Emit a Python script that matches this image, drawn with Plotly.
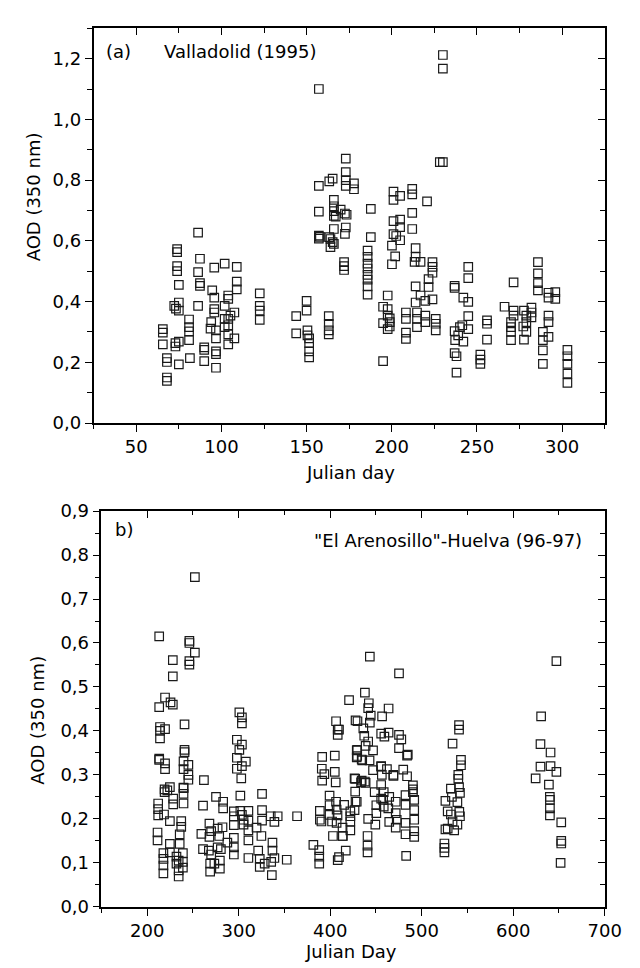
import plotly.graph_objects as go

# ---- Panel (a): Valladolid (1995) ----
days_a = [
    65.6, 65.6, 65.6, 68, 68, 68, 68, 73, 73, 72.3, 73.3,
    74, 74, 74, 74, 75, 75, 75, 75, 75, 81, 81, 81, 81, 81.5,
    86.3, 86.3, 86.3, 87.4, 87.4, 87.4, 89.9, 89.9, 89.9,
    95.8, 95.8, 95.8, 95.8, 94.6, 94, 93.6, 96.8, 96.8, 96.8, 96.8, 96.8,
    101.9, 101.9, 101.9, 101.9, 104, 104, 104, 104, 104, 104, 105.3,
    109, 109, 109, 107.6, 107.6, 122.5, 122.5, 122.5, 122.5,
    143.9, 143.9, 150, 150, 150.5, 150.5, 151.5, 151.5, 151.5, 151.5,
    163, 163, 163, 163, 172, 172, 172,
    157.2, 157.2, 157.2, 157.2, 157.2, 157.8, 163.3, 163.3, 165.3, 165.3, 164, 164,
    166, 166, 166, 166, 166, 166, 170, 172.5, 172.5,
    173, 173, 173, 173, 173, 177.8, 177.8, 167.1, 173.5,
    185.8, 185.8, 185.8, 185.8, 185.8, 185.8, 185.8, 185.8, 187.7, 187.7,
    201, 201, 201, 201, 204.9, 204.9, 204.9, 204.9, 202.6, 200.1, 200.1, 202,
    212, 212, 212, 212, 220.7, 214, 214, 214, 214, 213.4, 216.9, 216.9,
    223.9, 223.9, 223.9, 223.9, 221.6, 221.6, 219.7, 219.7, 219.7,
    197.6, 197.6, 197.6, 197.6, 194.9, 194.9, 194.9, 198.8, 198.8, 198.8,
    208.3, 208.3, 208.3, 208.3, 214.8, 214.8, 214.8, 225.8, 225.8, 225.8,
    230, 230, 230, 228.2,
    236.9, 236.9, 236.9, 236.9, 244.9, 244.9, 244.9, 244.9, 244.9, 242, 242,
    240, 241.4, 239, 237.2, 238, 238, 252, 252, 252, 255.9, 255.9, 255.9,
    266.2, 271.5, 271.5, 271.5, 270, 270, 270, 270, 277.6, 277.6, 277.2,
    279, 279, 279, 282, 282, 282, 285.8, 285.8, 285.8, 285.8,
    292, 292, 292, 292, 292, 296, 296, 288.7, 288.7, 288.7, 288.7,
    303.1, 303.1, 303.1, 303.1, 303.1,
]
aod_a = [
    0.309, 0.298, 0.259, 0.214, 0.201, 0.150, 0.139, 0.263, 0.252, 0.386, 0.377,
    0.573, 0.563, 0.517, 0.500, 0.455, 0.397, 0.370, 0.268, 0.193, 0.341, 0.316, 0.302, 0.273, 0.214,
    0.627, 0.497, 0.386, 0.541, 0.461, 0.452, 0.249, 0.241, 0.204,
    0.512, 0.413, 0.375, 0.364, 0.437, 0.332, 0.311, 0.305, 0.279, 0.236, 0.227, 0.182,
    0.525, 0.386, 0.343, 0.316, 0.420, 0.409, 0.343, 0.322, 0.292, 0.259, 0.354,
    0.514, 0.466, 0.440, 0.364, 0.279, 0.427, 0.386, 0.370, 0.340,
    0.352, 0.295, 0.402, 0.370, 0.305, 0.289, 0.279, 0.263, 0.236, 0.216,
    0.352, 0.327, 0.305, 0.292, 0.530, 0.517, 0.504,
    1.100, 0.781, 0.696, 0.617, 0.607, 0.613, 0.796, 0.612, 0.805, 0.596, 0.606, 0.579,
    0.735, 0.714, 0.698, 0.682, 0.639, 0.590, 0.703, 0.690, 0.623,
    0.871, 0.826, 0.800, 0.781, 0.644, 0.789, 0.770, 0.680, 0.686,
    0.568, 0.547, 0.525, 0.509, 0.488, 0.472, 0.450, 0.423, 0.705, 0.612,
    0.762, 0.735, 0.665, 0.622, 0.748, 0.670, 0.645, 0.602, 0.616, 0.584, 0.523, 0.549,
    0.771, 0.753, 0.692, 0.639, 0.730, 0.576, 0.547, 0.450, 0.397, 0.531, 0.531, 0.420,
    0.530, 0.514, 0.495, 0.407, 0.474, 0.448, 0.402, 0.354, 0.332,
    0.420, 0.375, 0.354, 0.309, 0.383, 0.329, 0.204, 0.345, 0.332, 0.318,
    0.364, 0.343, 0.298, 0.277, 0.364, 0.343, 0.316, 0.343, 0.327, 0.305,
    1.212, 1.167, 0.859, 0.859,
    0.452, 0.445, 0.303, 0.230, 0.514, 0.477, 0.399, 0.352, 0.309, 0.413, 0.268,
    0.316, 0.322, 0.289, 0.273, 0.220, 0.166, 0.225, 0.209, 0.195, 0.338, 0.327, 0.275,
    0.383, 0.463, 0.370, 0.354, 0.332, 0.316, 0.300, 0.273, 0.370, 0.275, 0.318,
    0.354, 0.332, 0.300, 0.380, 0.364, 0.348, 0.530, 0.493, 0.461, 0.437,
    0.429, 0.413, 0.354, 0.332, 0.284, 0.431, 0.409, 0.300, 0.273, 0.239, 0.195,
    0.241, 0.220, 0.195, 0.163, 0.132,
]

# ---- Panel (b): "El Arenosillo"-Huelva (96-97) ----
days_b = [
    252.1, 252.1, 213.1, 213.1, 213.1, 213.1, 246.1, 246.1, 246.1, 246.1,
    228, 228, 228, 219.5, 219.5, 219.5, 219.5, 225.5, 214, 214, 214,
    420.6, 240.8, 240.8, 240.8, 300.7, 300.7, 303.5, 303.5, 303.5, 303.5,
    298, 298, 298, 307.8, 302.8, 239.7, 239.7, 239.7, 239.7, 239.7, 239.7,
    245, 245, 245, 262, 224.8, 224.8, 224.8, 224.8, 219, 219,
    406.4, 406.4, 408.2, 408.2, 408.2, 391.2, 391.2, 405, 405, 390.8, 393.6, 406,
    427.7, 427.7, 429.5, 429.5,
    443.3, 443.3, 475.2, 475.2, 475.2, 647.2, 647.2, 437.9, 437.9, 442.2,
    441.5, 441.5, 441.5, 463.8, 463.8, 444.3, 456.7, 429.8, 436.2, 437.2,
    409.6, 409.6, 540.8, 540.8, 540.8, 630.5, 533.7, 533.7,
    455.7, 455.7, 455.7, 455.7, 455.7, 459.2, 477.7, 484, 484, 438.7, 438.7,
    446.8, 446.8, 429, 429, 429, 435, 443, 629.8, 629.8, 640.8, 640.8, 624.5, 639,
    542.9, 542.9, 540, 540, 462, 469, 479.8, 427.3, 427.3, 433.7, 490.4, 490.4, 490.4,
    222, 228.4, 228.4, 212, 212, 212, 218.4, 237.2, 237.2, 235.5, 235.5, 211.3, 211.3,
    217.7, 217.7, 217.7, 217.7, 232, 232, 234.4, 234.4, 234.4, 239, 239, 239,
    261, 261, 275.2, 283, 283, 259.2, 268, 268, 269.9, 269.9, 277, 277, 282.3, 278.7,
    267.4, 280.5, 268.8, 268.8, 273.4, 279.4, 279.4, 287.6,
    294.7, 294.7, 294.7, 294.7, 294.7, 294.7, 301.8, 301.8, 305.3, 305.3, 303.5,
    310.6, 310.6, 310.6, 310.6, 310.6, 319.5, 324.8, 321.3, 323, 323, 328.4,
    325.5, 325.5, 325.5, 335, 342.6, 339, 339, 336.9, 336.9, 335.5, 336.2, 352.5, 363.8,
    381.6, 388, 388, 388, 388.7, 388.7, 390.4, 399.3, 399.3, 399.3, 402, 403,
    407, 407, 408, 413.5, 413.5, 417, 415.2, 422, 422, 422, 422,
    434.4, 434.4, 426.6, 426.6, 456.4, 448.6, 469.1, 484.8,
    491.8, 491.8, 491.8, 491.8, 491.8, 482.3, 482.3, 482.3, 482.3,
    471.6, 471.6, 471.6, 472.7, 464.5, 464.5, 458.5, 458.5, 457.8, 463.5,
    450.4, 450.4, 449.3, 413.8, 440.8, 440.8, 440.8, 483,
    541.8, 541.8, 531.9, 531.9, 533, 525.9, 525.9, 528.4, 528.4, 539, 539, 541.1, 535.5,
    524.8, 524.8, 524.8, 640, 640.1, 640.1, 640.1, 652.5, 652.5, 652.5, 651.8,
]
aod_b = [
    0.750, 0.578, 0.615, 0.454, 0.334, 0.337, 0.605, 0.600, 0.559, 0.551,
    0.561, 0.524, 0.460, 0.476, 0.404, 0.326, 0.313, 0.465, 0.409, 0.400, 0.383,
    0.470, 0.415, 0.357, 0.352, 0.442, 0.357, 0.431, 0.417, 0.369, 0.320,
    0.380, 0.339, 0.314, 0.330, 0.292, 0.331, 0.313, 0.271, 0.270, 0.257, 0.235,
    0.323, 0.300, 0.289, 0.288, 0.272, 0.195, 0.143, 0.124, 0.267, 0.261,
    0.422, 0.239, 0.403, 0.391, 0.106, 0.341, 0.287, 0.344, 0.307, 0.314, 0.302, 0.283,
    0.424, 0.239, 0.357, 0.343,
    0.569, 0.419, 0.531, 0.391, 0.361, 0.559, 0.307, 0.487, 0.285, 0.463,
    0.452, 0.376, 0.200, 0.451, 0.396, 0.435, 0.433, 0.422, 0.406, 0.389,
    0.403, 0.113, 0.413, 0.403, 0.272, 0.433, 0.371, 0.194,
    0.394, 0.320, 0.319, 0.246, 0.277, 0.387, 0.381, 0.344, 0.297, 0.366, 0.282,
    0.356, 0.311, 0.356, 0.340, 0.239, 0.333, 0.333, 0.370, 0.319, 0.351, 0.320, 0.292, 0.278,
    0.334, 0.322, 0.300, 0.291, 0.313, 0.300, 0.312, 0.291, 0.262, 0.283, 0.276, 0.267, 0.261,
    0.265, 0.246, 0.233, 0.235, 0.222, 0.208, 0.210, 0.195, 0.182, 0.165, 0.143, 0.169, 0.151,
    0.122, 0.109, 0.094, 0.076, 0.114, 0.098, 0.105, 0.083, 0.069, 0.122, 0.102, 0.089,
    0.230, 0.131, 0.250, 0.239, 0.224, 0.166, 0.189, 0.159, 0.172, 0.119, 0.178, 0.135, 0.181, 0.161,
    0.128, 0.131, 0.098, 0.080, 0.098, 0.105, 0.087, 0.146,
    0.217, 0.206, 0.186, 0.157, 0.135, 0.119, 0.253, 0.218, 0.198, 0.187, 0.209,
    0.218, 0.196, 0.174, 0.151, 0.111, 0.180, 0.161, 0.128, 0.109, 0.091, 0.098,
    0.257, 0.220, 0.196, 0.206, 0.206, 0.193, 0.111, 0.146, 0.128, 0.102, 0.072, 0.107, 0.206,
    0.141, 0.129, 0.114, 0.098, 0.218, 0.198, 0.194, 0.253, 0.231, 0.209, 0.194, 0.161,
    0.221, 0.191, 0.208, 0.180, 0.161, 0.128, 0.232, 0.217, 0.194, 0.174, 0.206,
    0.335, 0.287, 0.292, 0.220, 0.300, 0.261, 0.298, 0.346,
    0.243, 0.220, 0.198, 0.172, 0.159, 0.254, 0.232, 0.191, 0.165,
    0.239, 0.213, 0.180, 0.198, 0.193, 0.250, 0.261, 0.228, 0.243, 0.224,
    0.231, 0.213, 0.187, 0.161, 0.161, 0.139, 0.124, 0.116,
    0.259, 0.206, 0.269, 0.210, 0.250, 0.241, 0.176, 0.217, 0.178, 0.238, 0.187, 0.216, 0.174,
    0.144, 0.134, 0.124, 0.250, 0.243, 0.224, 0.208, 0.192, 0.150, 0.144, 0.100,
]

W, H = 640, 968
FONT = "DejaVu Sans, Liberation Sans, Arial, sans-serif"
FS = 18

def px(x):
    return x / W

def py(y):
    return 1 - y / H

marker = dict(symbol="square-open", size=8.5, color="#1a1a1a", line=dict(width=1.2, color="#1a1a1a"))

fig = go.Figure()
fig.add_trace(go.Scatter(x=days_a, y=aod_a, mode="markers", marker=marker,
                         xaxis="x", yaxis="y", showlegend=False, hoverinfo="x+y"))
fig.add_trace(go.Scatter(x=days_b, y=aod_b, mode="markers", marker=marker,
                         xaxis="x2", yaxis="y2", showlegend=False, hoverinfo="x+y"))
# empty traces to register mirror axes (ticks pointing inward on top/right)
fig.add_trace(go.Scatter(x=[], y=[], xaxis="x3", yaxis="y3", showlegend=False))
fig.add_trace(go.Scatter(x=[], y=[], xaxis="x4", yaxis="y4", showlegend=False))

dom_a_x = [px(88), px(613)]
dom_a_y = [py(413), py(9.5)]
dom_b_x = [px(96), px(613)]
dom_b_y = [py(907.5), py(503)]

common = dict(showline=True, linecolor="black", linewidth=1.6, showgrid=False, zeroline=False,
              tickcolor="black", tickwidth=1.4, ticklen=7,
              tickfont=dict(family=FONT, size=FS, color="black"))

def main_axis(dom, rng, dtick, mdtick, anchor, fmt=None):
    d = dict(common)
    d.update(domain=dom, range=rng, dtick=dtick, tick0=0, ticks="outside", anchor=anchor,
             minor=dict(dtick=mdtick, tick0=0, ticks="outside", ticklen=4.5, tickwidth=1.4, tickcolor="black"))
    if fmt:
        d["tickformat"] = fmt
    return d

def mirror_axis(rng, dtick, mdtick, overlay, anchor, side):
    d = dict(common)
    d.update(range=rng, dtick=dtick, tick0=0, ticks="inside", overlaying=overlay, anchor=anchor,
             side=side, showticklabels=False,
             minor=dict(dtick=mdtick, tick0=0, ticks="inside", ticklen=4.5, tickwidth=1.4, tickcolor="black"))
    return d

fig.update_layout(
    width=W, height=H,
    margin=dict(l=0, r=0, t=0, b=0),
    paper_bgcolor="white", plot_bgcolor="white",
    separators=",.",
    font=dict(family=FONT, size=FS, color="black"),
    xaxis=main_axis(dom_a_x, [25, 325], 50, 25, "y"),
    yaxis=main_axis(dom_a_y, [0, 1.3], 0.2, 0.1, "x", ".1f"),
    xaxis2=main_axis(dom_b_x, [150, 700], 100, 50, "y2"),
    yaxis2=main_axis(dom_b_y, [0, 0.9], 0.1, 0.05, "x2", ".1f"),
    xaxis3=mirror_axis([25, 325], 50, 25, "x", "y", "top"),
    yaxis3=mirror_axis([0, 1.3], 0.2, 0.1, "y", "x", "right"),
    xaxis4=mirror_axis([150, 700], 100, 50, "x2", "y2", "top"),
    yaxis4=mirror_axis([0, 0.9], 0.1, 0.05, "y2", "x2", "right"),
)

def txt(text, x, y, xanchor="left", angle=0):
    fig.add_annotation(text=text, x=px(x), y=py(y), xref="paper", yref="paper",
                       xanchor=xanchor, yanchor="middle", showarrow=False, textangle=angle,
                       font=dict(family=FONT, size=FS, color="black"))

txt("(a)", 99, 33)
txt("Valladolid (1995)", 158, 33)
txt("b)", 108, 522)
txt("\"El Arenosillo\"-Huelva (96-97)", 592, 533, xanchor="right")
txt("AOD (350 nm)", 26, 182, xanchor="center", angle=-90)
txt("AOD (350 nm)", 30, 717, xanchor="center", angle=-90)
txt("Julian day", 352, 464, xanchor="center")
txt("Julian Day", 352, 953, xanchor="center")

fig.write_html("out.html")
